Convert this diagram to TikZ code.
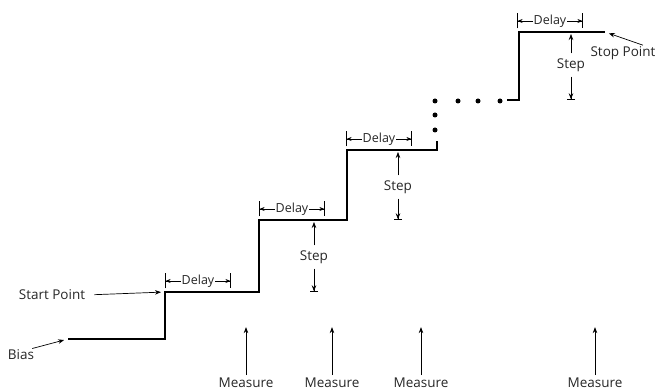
\documentclass[tikz,border=0pt]{standalone}
\usepackage{fontspec}
\setmainfont{Open Sans}
\usetikzlibrary{arrows.meta}
\tikzset{
  stair/.style={line width=2.4pt},
  ptr/.style={line width=0.7pt, -{Stealth[length=6pt,width=4.5pt]}},
  stepptr/.style={line width=0.7pt, -{Stealth[length=6pt,width=4.5pt]Bar[width=8pt]}},
  dimarr/.style={line width=0.6pt, -{Stealth[length=5pt,width=4pt]Bar[width=15pt]}},
  lbl/.style={font=\fontsize{13.5}{15}\selectfont, text=black!85, inner sep=1pt},
  dlbl/.style={lbl, font=\fontsize{12.5}{14}\selectfont},
  sdot/.style={circle, fill=black, inner sep=0pt, minimum size=5pt}
}
\begin{document}
\begin{tikzpicture}[x=1pt,y=1pt]
  \useasboundingbox (0,0) rectangle (662,390);
  \coordinate (b0) at (68,51);
  \coordinate (s0) at (165,51);
  \coordinate (start) at (165,98);
  \coordinate (s2) at (259,98);
  \coordinate (s3) at (259,170);
  \coordinate (s4) at (347,170);
  \coordinate (s5) at (347,240);
  \coordinate (s6) at (437,240);
  \coordinate (s7) at (437,249);
  \coordinate (t0) at (507,290);
  \coordinate (t1) at (519,290);
  \coordinate (t2) at (519,358);
  \coordinate (stop) at (605,358);
  \draw[stair] (b0) -- (s0) -- (start) -- (s2) -- (s3) -- (s4) -- (s5) -- (s6) -- (s7);
  \draw[stair] (t0) -- (t1) -- (t2) -- (stop);
  \node[sdot] (dt1) at (435,260) {};
  \node[sdot] (dt2) at (435,275) {};
  \node[sdot] (dt3) at (435,289) {};
  \node[sdot] (dt4) at (458,289) {};
  \node[sdot] (dt5) at (478,289) {};
  \node[sdot] (dt6) at (500,289) {};
  \node[dlbl] (d1) at (198,109) {Delay};
  \draw[dimarr] (d1.west) -- ([xshift=-33pt]d1.center);
  \draw[dimarr] (d1.east) -- ([xshift=33pt]d1.center);
  \node[dlbl] (d2) at (292,181) {Delay};
  \draw[dimarr] (d2.west) -- ([xshift=-33pt]d2.center);
  \draw[dimarr] (d2.east) -- ([xshift=33pt]d2.center);
  \node[dlbl] (d3) at (379,251) {Delay};
  \draw[dimarr] (d3.west) -- ([xshift=-33pt]d3.center);
  \draw[dimarr] (d3.east) -- ([xshift=33pt]d3.center);
  \node[dlbl] (d4) at (550,369) {Delay};
  \draw[dimarr] (d4.west) -- ([xshift=-33pt]d4.center);
  \draw[dimarr] (d4.east) -- ([xshift=33pt]d4.center);
  \node[lbl] (st1) at (314,133) {Step};
  \draw[ptr, shorten >=2pt] ([yshift=4pt]st1.north) -- (st1 |- s3);
  \draw[stepptr] ([yshift=-4pt]st1.south) -- (st1 |- start);
  \node[lbl] (st2) at (398,203) {Step};
  \draw[ptr, shorten >=2pt] ([yshift=4pt]st2.north) -- (st2 |- s5);
  \draw[stepptr] ([yshift=-4pt]st2.south) -- (st2 |- s4);
  \node[lbl] (st3) at (571,325) {Step};
  \draw[ptr, shorten >=2pt] ([yshift=4pt]st3.north) -- (st3 |- t2);
  \draw[stepptr] ([yshift=-4pt]st3.south) -- (st3 |- t1);
  \node[lbl] (sp) at (52,95) {Start Point};
  \draw[ptr, shorten <=8pt, shorten >=4pt] (sp.east) -- (start);
  \node[lbl] (bs) at (21,35) {Bias};
  \draw[ptr, shorten <=1pt, shorten >=4pt] ([xshift=-4pt]bs.north east) -- (b0);
  \node[lbl] (stp) at (623,337) {Stop Point};
  \draw[ptr, shorten >=4pt] ([xshift=20pt]stp.north) -- (stop);
  \node[lbl, anchor=base] (m1) at (246,2) {Measure};
  \draw[ptr] ([yshift=2pt]m1.north) -- +(0,48);
  \node[lbl, anchor=base] (m2) at (332,2) {Measure};
  \draw[ptr] ([yshift=2pt]m2.north) -- +(0,48);
  \node[lbl, anchor=base] (m3) at (421,2) {Measure};
  \draw[ptr] ([yshift=2pt]m3.north) -- +(0,48);
  \node[lbl, anchor=base] (m4) at (595,2) {Measure};
  \draw[ptr] ([yshift=2pt]m4.north) -- +(0,48);
\end{tikzpicture}
\end{document}
